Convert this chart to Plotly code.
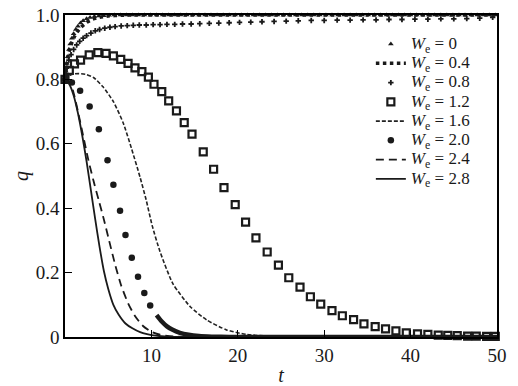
import plotly.graph_objects as go

# ---------------- data ----------------
# We = 0 (triangles)
t_we0 = [0, 0.1, 0.2, 0.3, 0.45, 0.6, 0.8, 1.0, 1.25, 1.5, 1.8, 2.1, 2.5, 2.9, 3.4, 3.9,
         4.5, 5.1, 5.7, 6.4, 7.1, 7.8, 8.5, 9.2, 9.9, 10.6, 11.3, 12.0, 12.7, 13.4, 14.1,
         14.8, 15.5, 16.2, 16.9, 17.6, 18.3, 19.0, 19.7, 20.4, 21.1, 21.8, 22.5, 23.2,
         23.9, 24.6, 25.3, 26.0, 26.7, 27.4, 28.1, 28.8, 29.5, 30.2, 30.9, 31.6, 32.3,
         33.0, 33.7, 34.4, 35.1, 35.8, 36.5, 37.2, 37.9, 38.6, 39.3, 40.0, 40.7, 41.4,
         42.1, 42.8, 43.5, 44.2, 44.9, 45.6, 46.3, 47.0, 47.7, 48.4, 49.1, 49.8]
q_we0 = [0.80, 0.825, 0.85, 0.87, 0.893, 0.91, 0.928, 0.942, 0.955, 0.965, 0.975, 0.982,
         0.988, 0.992, 0.995, 0.997, 0.998, 0.999, 1.0, 1.0, 1.0, 1.0, 1.0, 1.0, 1.0, 1.0,
         1.0, 1.0, 1.0, 1.0, 1.0, 1.0, 1.0, 1.0, 1.0, 1.0, 1.0, 1.0, 1.0, 1.0, 1.0, 1.0,
         1.0, 1.0, 1.0, 1.0, 1.0, 1.0, 1.0, 1.0, 1.0, 1.0, 1.0, 1.0, 1.0, 1.0, 1.0, 1.0,
         1.0, 1.0, 1.0, 1.0, 1.0, 1.0, 1.0, 1.0, 1.0, 1.0, 1.0, 1.0, 1.0, 1.0, 1.0, 1.0,
         1.0, 1.0, 1.0, 1.0, 1.0, 1.0, 1.0, 1.0]

# We = 0.4 (thick dotted line)
t_we04 = [0, 0.2, 0.4, 0.7, 1.0, 1.4, 1.9, 2.5, 3.2, 4.0, 5.0, 6.5, 8.0, 20.0, 35.0, 50.0]
q_we04 = [0.80, 0.845, 0.878, 0.908, 0.928, 0.947, 0.963, 0.977, 0.987, 0.993, 0.997,
          0.999, 1.0, 1.0, 1.0, 1.0]

# We = 0.8 (plus markers)
t_we08 = [0, 0.2, 0.45, 0.7, 1.0, 1.35, 1.7, 2.1, 2.5, 3.0, 3.5, 4.0, 4.6, 5.2, 5.8, 6.5,
          7.2, 7.9, 8.6, 9.4, 10.2, 11.0, 11.8, 12.7, 13.6, 14.6, 15.6, 16.7, 17.8, 19.0,
          20.2, 21.5, 22.8, 24.2, 25.6, 27.0, 28.5, 30.0, 31.5, 33.0, 34.5, 36.0, 37.5,
          39.0, 40.5, 42.0, 43.5, 45.0, 46.5, 48.0, 49.5]
q_we08 = [0.80, 0.835, 0.86, 0.877, 0.893, 0.907, 0.918, 0.928, 0.936, 0.944, 0.951,
          0.955, 0.959, 0.962, 0.964, 0.966, 0.967, 0.968, 0.969, 0.969, 0.970, 0.970,
          0.971, 0.971, 0.972, 0.972, 0.973, 0.974, 0.975, 0.976, 0.977, 0.978, 0.979,
          0.980, 0.981, 0.982, 0.983, 0.983, 0.984, 0.984, 0.985, 0.985, 0.986, 0.986,
          0.987, 0.987, 0.988, 0.988, 0.989, 0.990, 0.993]

# We = 1.2 (open squares)
t_we12 = [0, 0.5, 1.1, 1.8, 2.8, 3.8, 4.75, 5.6, 6.45, 7.3, 8.1, 8.9, 9.65, 10.3, 11.2,
          12.0, 12.9, 13.8, 14.7, 16.0, 17.2, 18.4, 19.7, 20.9, 22.1, 23.4, 24.7, 25.9,
          27.2, 28.4, 29.6, 30.9, 32.1, 33.4, 34.6, 35.9, 37.1, 38.3, 39.5, 40.8, 42.0,
          43.2, 44.3, 45.4, 46.6, 47.6, 48.8, 49.8]
q_we12 = [0.80, 0.828, 0.848, 0.860, 0.876, 0.883, 0.881, 0.873, 0.862, 0.850, 0.836,
          0.824, 0.807, 0.785, 0.762, 0.733, 0.702, 0.666, 0.630, 0.575, 0.521, 0.464,
          0.411, 0.357, 0.308, 0.264, 0.223, 0.184, 0.155, 0.125, 0.102, 0.082, 0.066,
          0.054, 0.041, 0.032, 0.025, 0.019, 0.013, 0.010, 0.008, 0.006, 0.005, 0.004,
          0.003, 0.003, 0.002, 0.002]

# We = 1.6 (fine dashed line)
t_we16 = [0, 0.5, 1.0, 1.6, 2.5, 3.3, 4.4, 5.6, 6.75, 7.7, 8.7, 9.4, 10.1, 11.0, 12.5,
          14.5, 16.4, 18.7, 21.0, 24.0, 30.0, 50.0]
q_we16 = [0.80, 0.812, 0.817, 0.818, 0.815, 0.806, 0.777, 0.731, 0.664, 0.585, 0.495,
          0.425, 0.345, 0.265, 0.165, 0.094, 0.053, 0.022, 0.008, 0.002, 0.0, 0.0]

# We = 2.0 (filled circles; dense tail)
t_we20 = [0, 0.8, 1.75, 2.85, 3.92, 4.92, 5.6, 6.37, 7.0, 7.73, 8.45, 9.18, 9.86]
q_we20 = [0.80, 0.79, 0.765, 0.716, 0.645, 0.549, 0.473, 0.392, 0.317, 0.246, 0.187,
          0.137, 0.098]
t_we20_tail = [10.6, 11.2, 11.8, 12.4, 13.3, 14.3, 15.5, 17.0, 19.0, 22.0, 30.0, 40.0, 50.0]
q_we20_tail = [0.068, 0.048, 0.033, 0.023, 0.013, 0.007, 0.003, 0.001, 0.0, 0.0, 0.0,
               0.0, 0.0]

# We = 2.4 (dashed line)
t_we24 = [0, 0.45, 0.9, 1.5, 2.1, 2.7, 3.3, 3.9, 4.5, 5.1, 5.8, 6.5, 7.3, 8.1, 9.0,
          10.0, 11.0, 12.5, 15.0, 20.0, 50.0]
q_we24 = [0.80, 0.79, 0.767, 0.70, 0.625, 0.55, 0.485, 0.425, 0.365, 0.30, 0.225, 0.16,
          0.105, 0.065, 0.035, 0.016, 0.007, 0.002, 0.0, 0.0, 0.0]

# We = 2.8 (solid line)
t_we28 = [0, 0.5, 1.0, 1.5, 2.0, 2.5, 3.0, 3.5, 4.0, 4.5, 5.0, 5.6, 6.2, 7.0, 7.8, 8.7,
          9.5, 10.5, 12.0, 15.0, 50.0]
q_we28 = [0.80, 0.785, 0.75, 0.695, 0.625, 0.545, 0.455, 0.365, 0.28, 0.205, 0.15, 0.10,
          0.07, 0.042, 0.027, 0.015, 0.009, 0.004, 0.001, 0.0, 0.0]

x_ticks = [10, 20, 30, 40, 50]
x_tick_labels = ["10", "20", "30", "40", "50"]
y_ticks = [0, 0.2, 0.4, 0.6, 0.8, 1.0]
y_tick_labels = ["0", "0.2", "0.4", "0.6", "0.8", "1.0"]

SERIF = "Liberation Serif, Times New Roman, DejaVu Serif, serif"


def lbl(v):
    return ('<span style="font-size:17px"><i>W</i><sub>e</sub> = ' + v + "</span>")


INK = "#1a1a1a"
fig = go.Figure()

fig.add_trace(go.Scatter(x=t_we0, y=q_we0, mode="markers", name=lbl("0"),
                         marker=dict(symbol="triangle-up", size=5, color=INK),
                         cliponaxis=False))
fig.add_trace(go.Scatter(x=t_we04, y=q_we04, mode="lines", name=lbl("0.4"),
                         line=dict(color=INK, width=3.5, dash="dot", shape="spline",
                                   smoothing=0.6)))
fig.add_trace(go.Scatter(x=t_we08, y=q_we08, mode="markers", name=lbl("0.8"),
                         marker=dict(symbol="cross", size=4.5, color=INK),
                         cliponaxis=False))
fig.add_trace(go.Scatter(x=t_we12, y=q_we12, mode="markers", name=lbl("1.2"),
                         marker=dict(symbol="square-open", size=7, color=INK,
                                     line=dict(width=2.2, color=INK)),
                         cliponaxis=False))
fig.add_trace(go.Scatter(x=t_we16, y=q_we16, mode="lines", name=lbl("1.6"),
                         line=dict(color="#222222", width=1.6, dash="4px,2px",
                                   shape="spline", smoothing=0.6)))
fig.add_trace(go.Scatter(x=t_we20, y=q_we20, mode="markers", name=lbl("2.0"),
                         legendgroup="we20",
                         marker=dict(symbol="circle", size=6.5, color=INK),
                         cliponaxis=False))
fig.add_trace(go.Scatter(x=t_we20_tail, y=q_we20_tail, mode="lines", showlegend=False,
                         legendgroup="we20",
                         line=dict(color=INK, width=4.5, shape="spline", smoothing=0.6)))
fig.add_trace(go.Scatter(x=t_we24, y=q_we24, mode="lines", name=lbl("2.4"),
                         line=dict(color=INK, width=1.8, dash="8px,5px",
                                   shape="spline", smoothing=0.6)))
fig.add_trace(go.Scatter(x=t_we28, y=q_we28, mode="lines", name=lbl("2.8"),
                         line=dict(color=INK, width=1.8, shape="spline", smoothing=0.6)))

axis_common = dict(showline=True, linecolor="black", linewidth=1.5, mirror=True,
                   ticks="inside", tickcolor="black", tickwidth=1, ticklen=7,
                   showgrid=False, zeroline=False, automargin=False,
                   ticklabeloverflow="allow",
                   tickfont=dict(family=SERIF, size=19, color=INK))

fig.update_xaxes(range=[0, 50], tickvals=x_ticks, ticktext=x_tick_labels,
                 title=dict(text="<i>t</i>", standoff=4,
                            font=dict(family=SERIF, size=20, color=INK)),
                 **axis_common)
fig.update_yaxes(range=[0, 1.0], tickvals=y_ticks, ticktext=y_tick_labels,
                 title=dict(text="<i>q</i>", standoff=2,
                            font=dict(family=SERIF, size=20, color=INK)),
                 **axis_common)

# the page body adds an 8px offset; the figure is sized to fill the rest of the window
fig.update_layout(
    width=510, height=378,
    margin=dict(l=57, r=21, t=7, b=49),
    plot_bgcolor="white", paper_bgcolor="white",
    font=dict(family=SERIF, color=INK, size=17),
    legend=dict(x=0.708, y=0.955, xanchor="left", yanchor="top",
                bgcolor="rgba(0,0,0,0)", font=dict(size=12.5, family=SERIF),
                tracegroupgap=0),
)

fig.write_html("out.html")
